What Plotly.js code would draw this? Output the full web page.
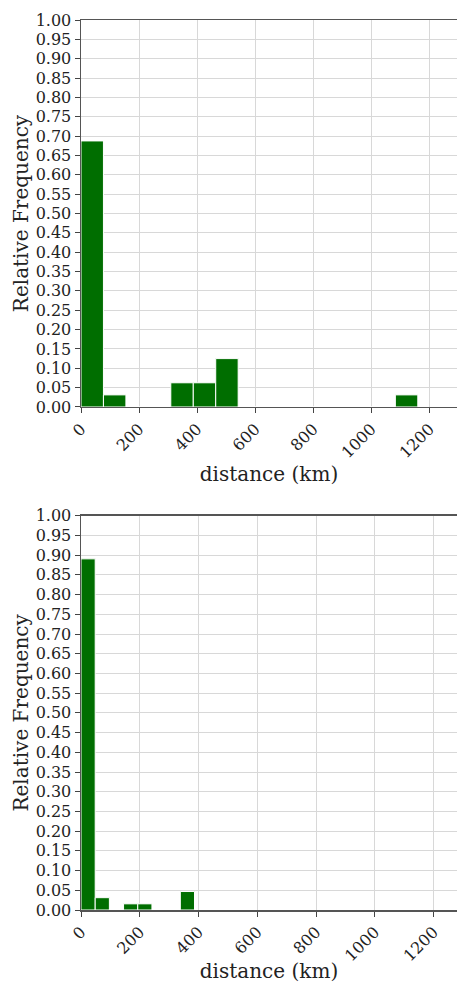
<!DOCTYPE html>
<html>
<head>
<meta charset="utf-8">
<script src="https://cdn.plot.ly/plotly-3.0.1.min.js"></script>
<style>html,body{margin:0;padding:0;background:#fff;}#chart{width:457px;height:983px;}</style>
</head>
<body>
<div id="chart"></div>
<script>
// Top histogram: bin left edges (km), bin width, relative frequencies
const topBinLeft = [0, 77.33, 154.67, 232, 309.33, 386.67, 464, 541.33, 618.67, 696, 773.33, 850.67, 928, 1005.33, 1082.67];
const topBinWidth = 77.33;
const topFreq = [0.6875, 0.03125, 0, 0, 0.0625, 0.0625, 0.125, 0, 0, 0, 0, 0, 0, 0, 0.03125];

// Bottom histogram
const botBinLeft = [0, 48.3, 96.6, 144.9, 193.2, 241.5, 289.8, 338.1];
const botBinWidth = 48.3;
const botFreq = [0.890625, 0.03125, 0, 0.015625, 0.015625, 0, 0, 0.046875];

const xTicks = [0, 200, 400, 600, 800, 1000, 1200];
const yTicks = [0, 0.05, 0.10, 0.15, 0.20, 0.25, 0.30, 0.35, 0.40, 0.45, 0.50, 0.55, 0.60, 0.65, 0.70, 0.75, 0.80, 0.85, 0.90, 0.95, 1.00];

const barColor = '#006e00';
const fontFam = 'DejaVu Serif';

const traces = [
  {type: 'bar', x: topBinLeft, y: topFreq, width: topBinLeft.map(() => topBinWidth), offset: 0,
   marker: {color: barColor, line: {color: '#ffffff', width: 1}}, xaxis: 'x', yaxis: 'y', hoverinfo: 'x+y'},
  {type: 'bar', x: botBinLeft, y: botFreq, width: botBinLeft.map(() => botBinWidth), offset: 0,
   marker: {color: barColor, line: {color: '#ffffff', width: 1}}, xaxis: 'x2', yaxis: 'y2', hoverinfo: 'x+y'}
];

function xAxis(anchor, range, standoff) {
  return {
    anchor: anchor, domain: [0, 1], range: range,
    tickmode: 'array', tickvals: xTicks, ticktext: xTicks.map(String),
    tickangle: -45, ticks: 'outside', ticklen: 5, tickcolor: '#444',
    showline: true, linecolor: '#555', linewidth: 1.5, mirror: true,
    showgrid: true, gridcolor: '#d8d8d8', gridwidth: 1, zeroline: false,
    tickfont: {family: fontFam, size: 16, color: '#222'},
    title: {text: 'distance (km)', font: {family: fontFam, size: 20, color: '#222'}, standoff: standoff},
    automargin: false, fixedrange: true
  };
}
function yAxis(anchor, domain) {
  return {
    anchor: anchor, domain: domain, range: [0, 1],
    tickmode: 'array', tickvals: yTicks, ticktext: yTicks.map(v => v.toFixed(2)),
    ticks: 'outside', ticklen: 5, tickcolor: '#444',
    showline: true, linecolor: '#555', linewidth: 1.5, mirror: false,
    showgrid: true, gridcolor: '#d8d8d8', gridwidth: 1, zeroline: false,
    tickfont: {family: fontFam, size: 16, color: '#222'},
    title: {text: 'Relative Frequency', font: {family: fontFam, size: 20, color: '#222'}, standoff: 1},
    automargin: false, fixedrange: true
  };
}

const layout = {
  width: 457, height: 983,
  margin: {l: 81, r: 0, t: 20, b: 73},
  paper_bgcolor: '#ffffff', plot_bgcolor: '#ffffff',
  font: {family: fontFam},
  showlegend: false, bargap: 0,
  xaxis: xAxis('y', [0, 1295], 2),
  yaxis: yAxis('x', [0.5652, 1]),
  xaxis2: xAxis('y2', [0, 1280], 13),
  yaxis2: yAxis('x2', [0, 0.443])
};

Plotly.newPlot('chart', traces, layout, {displayModeBar: false, staticPlot: true});
</script>
</body>
</html>
